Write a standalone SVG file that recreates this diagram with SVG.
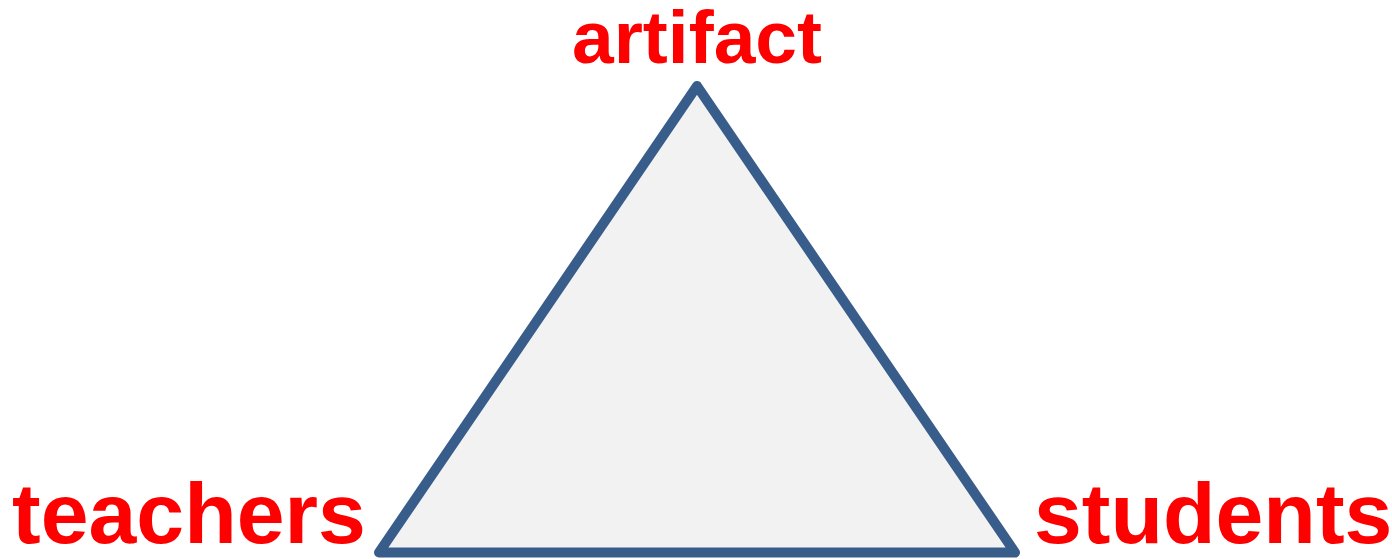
<svg xmlns="http://www.w3.org/2000/svg" width="1392" height="559" viewBox="0 0 1392 559">
<style>
.lbl{font-family:"Liberation Sans",Arial,sans-serif;font-weight:bold;fill:#FF0000}
.tri{fill:#F2F2F2;stroke:#385D8A;stroke-width:10;stroke-linejoin:round}
</style>
<rect width="1392" height="559" fill="#FFFFFF"/>
<g id="triangle">
<polygon class="tri" points="697,86 1015,552.5 379,552.5"/>
</g>
<g id="connectors"></g>
<g id="artifact">
<text class="lbl" x="697" y="63" font-size="75" text-anchor="middle">artifact</text>
</g>
<g id="teachers">
<text class="lbl" x="12" y="543" font-size="86">teachers</text>
</g>
<g id="students">
<text class="lbl" x="1034" y="543" font-size="86">students</text>
</g>
</svg>
